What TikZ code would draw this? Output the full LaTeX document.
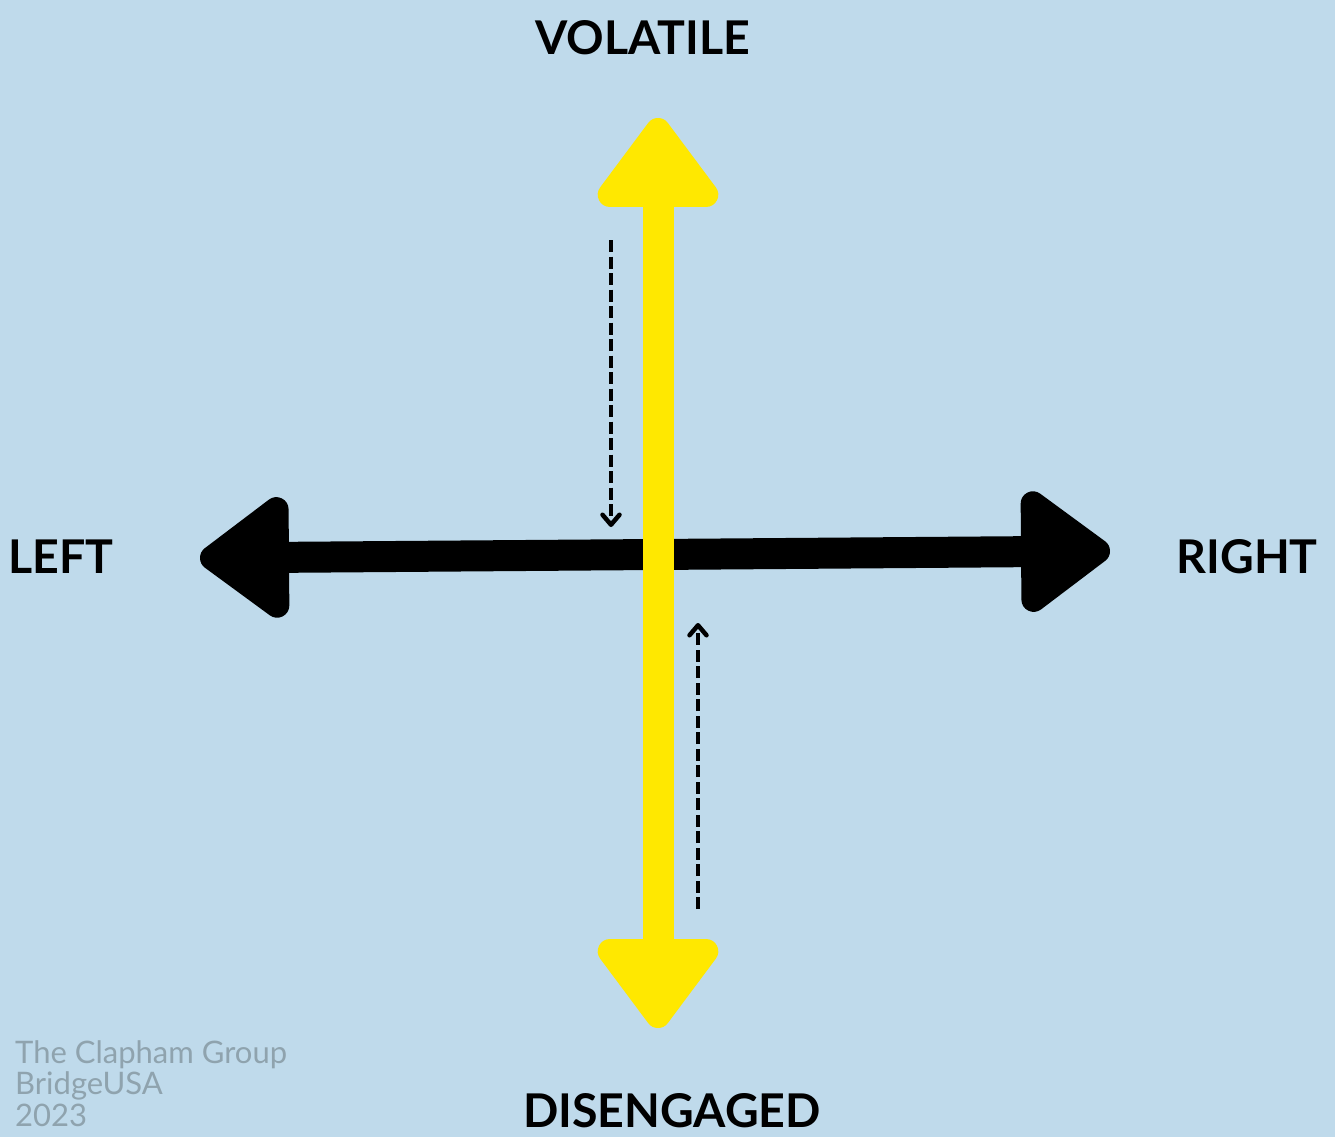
\documentclass[tikz,border=0pt]{standalone}
\usepackage{fontspec}
\setmainfont{Lato}
\usetikzlibrary{arrows.meta}
\definecolor{quadBlue}{HTML}{BFDAEB}
\definecolor{quadYellow}{HTML}{FFE800}
\definecolor{quadGrey}{HTML}{8FA3AE}
\tikzset{
  axislabel/.style={font=\fontsize{46.5}{52}\selectfont\bfseries, text=black, inner sep=0pt},
  credits/.style={font=\fontsize{31}{31.5}\selectfont, text=quadGrey, inner sep=0pt, align=left},
  axisline/.style={line width=31pt,
    {Triangle[length=98pt, width=138pt, round, line width=30pt]}-{Triangle[length=98pt, width=138pt, round, line width=30pt]}},
  hint/.style={line width=3.5pt, dash pattern=on 12pt off 4.5pt,
    -{Straight Barb[length=10pt, width=17pt, line width=4.5pt, round]}},
}
\begin{document}
\begin{tikzpicture}[x=1pt, y=-1pt]
\fill[quadBlue] (0,0) rectangle (1335,1137);
\useasboundingbox (0,0) rectangle (1335,1137);

% axis ends
\coordinate (leftEnd) at (200,558);
\coordinate (rightEnd) at (1110,551);
\coordinate (topEnd) at (658,118);
\coordinate (bottomEnd) at (658,1028);

\draw[axisline, black] (leftEnd) -- (rightEnd);
\draw[axisline, quadYellow] (topEnd) -- (bottomEnd);

% movement hints
\coordinate (hintTopA) at (611,240);
\coordinate (hintTopB) at (611,527);
\coordinate (hintBotA) at (698,909);
\coordinate (hintBotB) at (698,623);
\draw[hint] (hintTopA) -- (hintTopB);
\draw[hint] (hintBotA) -- (hintBotB);

\node[axislabel, anchor=base] (volatile) at (643,55) {VOLATILE};
\node[axislabel, anchor=base] (disengaged) at (672,1127) {DISENGAGED};
\node[axislabel, anchor=base west] (left) at (8,573) {LEFT};
\node[axislabel, anchor=base east] (right) at (1318,573) {RIGHT};

\node[credits, anchor=north west] (credit) at (15,1040) {The Clapham Group\\BridgeUSA\\2023};
\end{tikzpicture}
\end{document}
